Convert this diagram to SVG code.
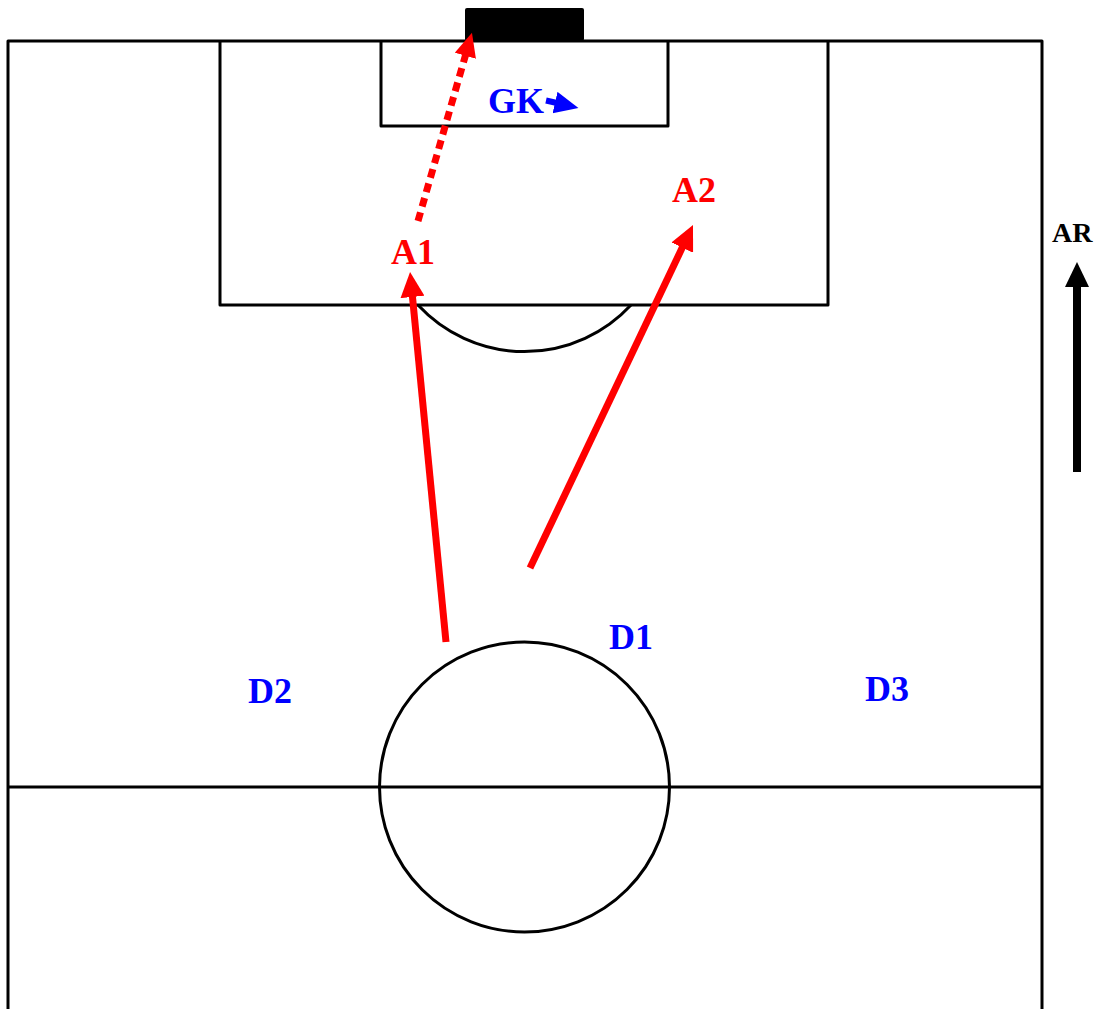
<svg xmlns="http://www.w3.org/2000/svg" width="1101" height="1009" viewBox="0 0 1101 1009">
<style>
.line{fill:none;stroke:#000;stroke-width:3;stroke-linejoin:round}
.lbl{font-family:"Liberation Serif","Times New Roman",serif;font-weight:bold;font-size:36px}
.red{fill:#ff0000}
.blue{fill:#0000ff}
.run{fill:none;stroke:#ff0000;stroke-width:7}
</style>
<defs>
<marker id="hr" markerUnits="userSpaceOnUse" markerWidth="26" markerHeight="24" refX="5" refY="12" orient="auto">
<path d="M0,0 L25,12 L0,24 z" fill="#ff0000"/>
</marker>
<marker id="hrs" markerUnits="userSpaceOnUse" markerWidth="26" markerHeight="24" refX="6" refY="11" orient="auto">
<path d="M0,0 L24,11 L0,22 z" fill="#ff0000"/>
</marker>
<marker id="hb" markerUnits="userSpaceOnUse" markerWidth="26" markerHeight="24" refX="5" refY="12" orient="auto">
<path d="M0,0 L25,12 L0,24 z" fill="#000"/>
</marker>
<marker id="hbl" markerUnits="userSpaceOnUse" markerWidth="26" markerHeight="24" refX="2" refY="11" orient="auto">
<path d="M0,0 L24,11 L0,22 z" fill="#0000ff"/>
</marker>
</defs>
<rect width="1101" height="1009" fill="#fff"/>
<g id="pitch">
<path class="line" d="M8,1009 V41 H1042 V1009"/>
<path class="line" d="M220,41 V305 H828 V41"/>
<path class="line" d="M381,41 V126 H668 V41"/>
<path class="line" d="M418,305 A145,145 0 0 0 631,305"/>
<line class="line" x1="8" y1="787" x2="1042" y2="787"/>
<circle class="line" cx="524.5" cy="787" r="145"/>
<rect id="goal" x="465" y="8" width="119" height="33" rx="2" fill="#000"/>
</g>
<g id="connectors">
<line class="run" x1="446" y1="642" x2="412" y2="292" marker-end="url(#hr)"/>
<line class="run" x1="530" y1="568" x2="684.4" y2="243.1" marker-end="url(#hr)"/>
<line class="run" x1="418" y1="221" x2="467" y2="50" stroke-dasharray="9 6" marker-end="url(#hrs)"/>
<line x1="546" y1="100.5" x2="557" y2="103" stroke="#0000ff" stroke-width="6" marker-end="url(#hbl)"/>
<line x1="1077" y1="472" x2="1077" y2="282" stroke="#000" stroke-width="8" marker-end="url(#hb)"/>
</g>
<g id="A1"><text class="lbl red" x="391" y="264">A1</text></g>
<g id="A2"><text class="lbl red" x="672" y="202">A2</text></g>
<g id="GK"><text class="lbl blue" x="488" y="113">GK</text></g>
<g id="D1"><text class="lbl blue" x="609" y="649">D1</text></g>
<g id="D2"><text class="lbl blue" x="248" y="703">D2</text></g>
<g id="D3"><text class="lbl blue" x="865" y="701">D3</text></g>
<g id="AR"><text class="lbl" x="1052" y="242" style="font-size:28px" fill="#000">AR</text></g>
</svg>
